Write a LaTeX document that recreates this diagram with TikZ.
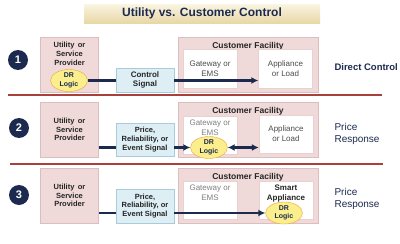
\documentclass[tikz,border=0pt]{standalone}
\usepackage{fontspec}
\setmainfont{Liberation Sans}
\usetikzlibrary{arrows.meta,shapes.geometric}
\definecolor{navy}{HTML}{1B2A4E}
\definecolor{pinkfill}{HTML}{F0D9D9}
\definecolor{pinkline}{HTML}{DDBDBD}
\definecolor{sigfill}{HTML}{DDEEF5}
\definecolor{sigline}{HTML}{A9CCDA}
\definecolor{drfill}{HTML}{FBEE8C}
\definecolor{drline}{HTML}{EFA53A}
\definecolor{rule}{HTML}{A8403C}
\definecolor{bannertop}{HTML}{FAF4E2}
\definecolor{bannerbot}{HTML}{E8D8A6}

\begin{document}
\begin{tikzpicture}[
  x=1pt, y=-1pt,
  font=\fontsize{7.5}{8.7}\selectfont\bfseries,
  >={Latex[length=7pt,width=7pt]},
  party/.style={draw=pinkline, fill=pinkfill, thin, minimum width=58pt,
    minimum height=55pt, inner sep=1pt, align=center, text=black!85},
  facility/.style={draw=pinkline, fill=pinkfill, thin, minimum width=140pt,
    minimum height=55pt, inner sep=0pt,
    label={[anchor=north, yshift=-2pt, font=\fontsize{8.5}{10}\selectfont\bfseries,
      text=black!85]north:Customer Facility}},
  device/.style={draw=pinkline!70, fill=white, thin, minimum width=54pt,
    minimum height=39pt, inner sep=1pt, align=center,
    font=\fontsize{8}{10}\selectfont, text=black!70},
  signal/.style={draw=sigline, fill=sigfill, thin, minimum width=58pt,
    inner sep=1pt, align=center, text=black!85},
  drlogic/.style={ellipse, draw=drline, fill=drfill, thin, minimum width=37pt,
    minimum height=22pt, inner sep=0pt, align=center,
    font=\fontsize{7}{8.5}\selectfont\bfseries, text=navy},
  number/.style={circle, fill=navy, minimum size=20pt, inner sep=0pt,
    text=white, font=\fontsize{11}{12}\selectfont\bfseries},
  mode/.style={anchor=west, align=left, text=navy,
    font=\fontsize{10}{11.5}\selectfont},
  link/.style={navy, line width=2.2pt},
  sep/.style={rule, line width=1.8pt}
]
  \useasboundingbox (0,0) rectangle (400,244);

  \node[top color=bannertop, bottom color=bannerbot,
    minimum width=236pt, minimum height=19pt, text=navy,
    font=\fontsize{12}{14}\selectfont\bfseries] (title) at (202,13.5)
    {Utility vs. Customer Control};

  % row 1
  \node[number] (n1) at (18,60) {1};
  \node[party] (util1) at (69.5,64.5) {};
  \node[align=center, anchor=north, text=black!85] (util1txt) at (69.5,39)
    {Utility\, or\\Service\\Provider};
  \node[drlogic] (dr1) at (69,80.5) {DR\\Logic};
  \node[signal, minimum height=24pt, font=\fontsize{8}{9}\selectfont\bfseries]
    (ctl1) at (145,80) {Control\\Signal};
  \node[facility] (cust1) at (248,64.5) {};
  \node[device] (gw1) at (210,69) {Gateway or\\EMS};
  \node[device] (app1) at (285.5,69) {Appliance\\or Load};
  \draw[link] (dr1.east) -- (dr1.east -| ctl1.west);
  \draw[link,->] (ctl1.east |- dr1.east) -- (app1.west |- dr1.east);
  \node[mode, font=\fontsize{9.5}{11}\selectfont\bfseries] (mode1) at (331,67)
    {Direct Control};

  \draw[sep] (8,95) -- (382,95);

  % row 2
  \node[number] (n2) at (19,128) {2};
  \node[party] (util2) at (69.5,129.5) {Utility\, or\\Service\\Provider};
  \node[signal, minimum height=33pt] (sig2) at (145,139.5)
    {Price,\\Reliability, or\\Event Signal};
  \node[facility] (cust2) at (248,129.5) {};
  \node[device, minimum height=38pt, label={[anchor=north, yshift=-1pt,
    align=center, font=\fontsize{8}{10}\selectfont, text=black!50]north:Gateway or\\EMS}]
    (gw2) at (210,135) {};
  \node[device, minimum height=38pt] (app2) at (286,134) {Appliance\\or Load};
  \node[drlogic] (dr2) at (209,147.5) {DR\\Logic};
  \draw[link] (util2.east |- dr2.west) -- (sig2.west |- dr2.west);
  \draw[link,->] (sig2.east |- dr2.west) -- (dr2.west);
  \draw[link,<->] (dr2.east) -- (dr2.east -| app2.west);
  \node[mode] (mode2) at (331,134) {Price\\Response};

  \draw[sep] (10,164) -- (383,164);

  % row 3
  \node[number] (n3) at (19,195) {3};
  \node[party] (util3) at (69.5,195.5) {Utility\, or\\Service\\Provider};
  \node[signal, minimum height=34pt] (sig3) at (145,206)
    {Price,\\Reliability, or\\Event Signal};
  \node[facility] (cust3) at (248,195.5) {};
  \node[device, minimum height=38pt, label={[anchor=north, yshift=-1pt,
    align=center, font=\fontsize{8}{10}\selectfont, text=black!50]north:Gateway or\\EMS}]
    (gw3) at (210,200) {};
  \node[device, minimum height=38pt, label={[anchor=north, yshift=-1pt,
    align=center, font=\fontsize{8}{10}\selectfont\bfseries, text=black!85]north:Smart\\Appliance}]
    (app3) at (286,200) {};
  \node[drlogic] (dr3) at (284,213) {DR\\Logic};
  \draw[link] (util3.east |- dr3.west) -- (sig3.west |- dr3.west);
  \draw[link,->] (sig3.east |- dr3.west) -- (dr3.west);
  \node[mode] (mode3) at (331,199) {Price\\Response};
\end{tikzpicture}
\end{document}
